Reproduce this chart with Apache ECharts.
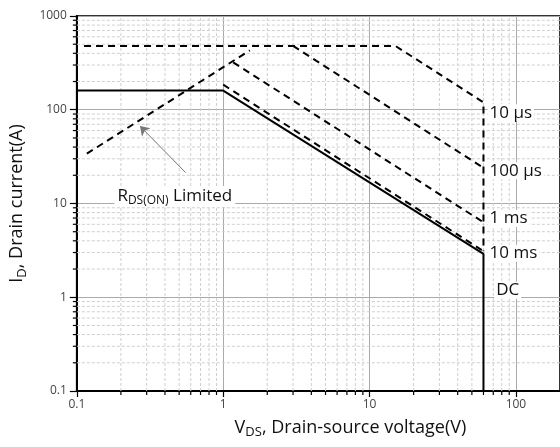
<!DOCTYPE html>
<html>
<head>
<meta charset="utf-8">
<script src="https://cdn.jsdelivr.net/npm/echarts@6/dist/echarts.min.js"></script>
<style>
  html, body { margin: 0; padding: 0; background: #fff; }
  #chart { width: 560px; height: 447px; }
</style>
</head>
<body>
<div id="chart"></div>
<script>
// safe operating area curves, [V_DS, I_D]
const dcLine = [[0.1, 160], [1, 160], [60, 2.9], [60, 0.1]];
const ms10Line = [[1, 185], [60, 3.1]];
const ms1Line = [[1.17, 320], [60, 6.3]];
const us100Line = [[3, 480], [60, 24]];
const us10Line = [[0.112, 480], [15, 480], [60, 120], [60, 3.1]];
const rdsLine = [[0.117, 34], [1.52, 430]];

const xMin = 0.1, xMax = 200;
const yMin = 0.1, yMax = 1000;
const minorX = [0.2, 0.3, 0.4, 0.5, 0.6, 0.7, 0.8, 0.9, 2, 3, 4, 5, 6, 7, 8, 9, 20, 30, 40, 50, 60, 70, 80, 90];
const minorY = [0.2, 0.3, 0.4, 0.5, 0.6, 0.7, 0.8, 0.9, 2, 3, 4, 5, 6, 7, 8, 9,
  20, 30, 40, 50, 60, 70, 80, 90, 200, 300, 400, 500, 600, 700, 800, 900];

const font = 'Open Sans';
const chart = echarts.init(document.getElementById('chart'));

// minor grid lines + minor ticks (log axes have no 2..9 minors of their own)
function minorRender(isX) {
  return function (params, api) {
    let a, b, t;
    if (isX) {
      const v = api.value(0);
      a = api.coord([v, yMin]); b = api.coord([v, yMax]);
      t = [a[0], a[1] + 4];
    } else {
      const v = api.value(1);
      a = api.coord([xMin, v]); b = api.coord([xMax, v]);
      t = [a[0] - 4, a[1]];
    }
    return {
      type: 'group',
      children: [
        { type: 'line', shape: { x1: a[0], y1: a[1], x2: b[0], y2: b[1] },
          style: { stroke: '#cfcfcf', lineWidth: 1, lineDash: [3, 2] } },
        { type: 'line', shape: { x1: a[0], y1: a[1], x2: t[0], y2: t[1] },
          style: { stroke: '#000', lineWidth: 1.2 } }
      ]
    };
  };
}

function tag(text, x, y) {
  return {
    coord: [x, y], symbol: 'circle', symbolSize: 0,
    label: {
      show: true, position: 'right', distance: 0, formatter: text,
      color: '#111', fontSize: 17, fontFamily: font,
      backgroundColor: '#fff', padding: [0, 2]
    }
  };
}

function curve(data, dashed, tags) {
  return {
    type: 'line', data: data, symbol: 'none', z: 5,
    lineStyle: { color: '#000', width: 2, type: dashed ? [7, 5] : 'solid' },
    markPoint: tags ? { silent: true, data: tags } : undefined
  };
}

const tickText = v => String(+(+v).toPrecision(6));
const richName = {
  v: { fontSize: 18, fontFamily: font, color: '#111' },
  sub: { fontSize: 13, fontFamily: font, color: '#111', verticalAlign: 'bottom', padding: [10, 0, 0, 0] },
  t: { fontSize: 18, fontFamily: font, color: '#111' }
};

chart.setOption({
  animation: false,
  grid: { left: 73, top: 16, width: 488, bottom: 56, show: true, borderColor: '#333', borderWidth: 2 },
  xAxis: {
    type: 'log', logBase: 10, min: xMin, max: xMax,
    name: '{v|V}{sub|DS}{t|, Drain-source voltage(V)}',
    nameLocation: 'middle', nameGap: 25,
    nameTextStyle: { padding: [0, 0, 0, 64], rich: richName },
    axisLine: { lineStyle: { color: '#000', width: 2 } },
    axisTick: { length: 6, lineStyle: { color: '#000', width: 1.2 } },
    axisLabel: { fontSize: 12, color: '#444', fontFamily: font, margin: 8, showMaxLabel: false, formatter: tickText },
    splitLine: { show: true, lineStyle: { color: '#aaa', width: 1 } }
  },
  yAxis: {
    type: 'log', logBase: 10, min: yMin, max: yMax,
    name: '{v|I}{sub|D}{t|, Drain current(A)}',
    nameLocation: 'middle', nameGap: 46, nameRotate: 90,
    nameTextStyle: { rich: richName },
    axisLine: { lineStyle: { color: '#000', width: 2 } },
    axisTick: { length: 7, lineStyle: { color: '#000', width: 1.2 } },
    axisLabel: { fontSize: 12, color: '#444', fontFamily: font, margin: 10, formatter: tickText },
    splitLine: { show: true, lineStyle: { color: '#aaa', width: 1 } }
  },
  series: [
    { type: 'custom', renderItem: minorRender(true), data: minorX.map(v => [v, 1]), z: 1, silent: true, clip: false },
    { type: 'custom', renderItem: minorRender(false), data: minorY.map(v => [1, v]), z: 1, silent: true, clip: false },
    curve(us10Line, true, [tag('10 µs', 64, 93)]),
    curve(us100Line, true, [tag('100 µs', 64, 22.4)]),
    curve(ms1Line, true, [tag('1 ms', 64, 6.9)]),
    curve(ms10Line, true, [tag('10 ms', 64, 2.94)]),
    curve(dcLine, false, [tag('DC', 71, 1.19)]),
    {
      type: 'line', data: rdsLine, symbol: 'none', z: 5,
      lineStyle: { color: '#000', width: 2, type: [7, 5] },
      markLine: {
        silent: true, symbolSize: 9,
        lineStyle: { color: '#777', width: 1, type: 'solid' },
        label: { show: false },
        data: [[{ coord: [0.553, 21.4], symbol: 'none' }, { coord: [0.27, 67], symbol: 'arrow' }]]
      },
      markPoint: {
        silent: true,
        data: [{
          coord: [0.467, 11.9], symbol: 'circle', symbolSize: 0,
          label: {
            show: true, position: 'inside',
            formatter: '{r|R}{sub|DS(ON)}{t| Limited}',
            backgroundColor: '#fff', padding: [0, 3],
            rich: {
              r: { fontSize: 17, fontFamily: font, color: '#111' },
              sub: { fontSize: 12, fontFamily: font, color: '#111', verticalAlign: 'bottom', padding: [9, 0, 0, 0] },
              t: { fontSize: 17, fontFamily: font, color: '#111' }
            }
          }
        }]
      }
    }
  ]
});
</script>
</body>
</html>
